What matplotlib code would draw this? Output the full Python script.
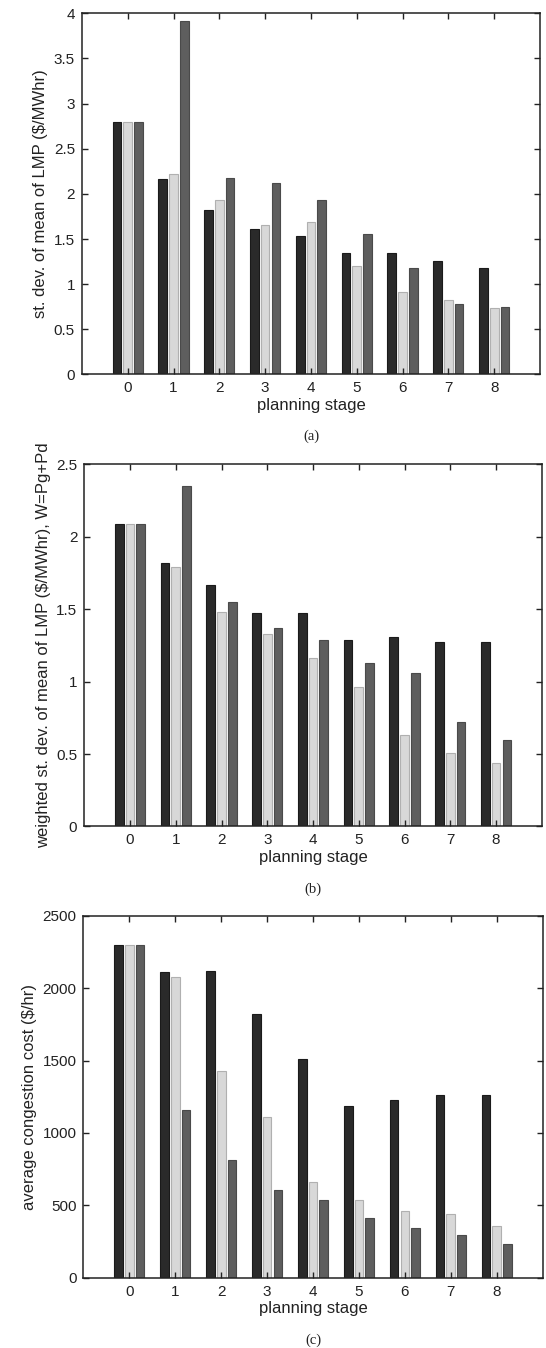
"""
Three grouped bar panels: LMP spread and congestion cost per planning stage.
"""
import numpy as np
import matplotlib.pyplot as plt

stages = [0, 1, 2, 3, 4, 5, 6, 7, 8]

# panel (a): st. dev. of mean of LMP
std_dark = [2.80, 2.16, 1.82, 1.61, 1.53, 1.35, 1.34, 1.26, 1.18]
std_light = [2.80, 2.22, 1.93, 1.65, 1.69, 1.20, 0.91, 0.83, 0.74]
std_mid = [2.80, 3.91, 2.17, 2.12, 1.93, 1.55, 1.18, 0.78, 0.75]

# panel (b): weighted st. dev.
wstd_dark = [2.09, 1.82, 1.67, 1.47, 1.47, 1.29, 1.31, 1.27, 1.27]
wstd_light = [2.09, 1.79, 1.48, 1.33, 1.16, 0.96, 0.63, 0.51, 0.44]
wstd_mid = [2.09, 2.35, 1.55, 1.37, 1.29, 1.13, 1.06, 0.72, 0.60]

# panel (c): average congestion cost
cost_dark = [2300, 2115, 2120, 1825, 1510, 1185, 1230, 1265, 1265]
cost_light = [2300, 2080, 1425, 1110, 660, 540, 460, 440, 360]
cost_mid = [2300, 1160, 810, 605, 535, 410, 345, 295, 230]

plt.rcParams["font.family"] = ["Liberation Sans", "DejaVu Sans"]

fig = plt.figure(figsize=(5.46, 13.48), dpi=100)

panels = [
    ([0.150, 0.7222, 0.839, 0.268], (std_dark, std_light, std_mid),
     (0, 4), np.arange(0, 4.01, 0.5), "st. dev. of mean of LMP ($/MWhr)", "(a)"),
    ([0.1544, 0.3869, 0.838, 0.2687], (wstd_dark, wstd_light, wstd_mid),
     (0, 2.5), np.arange(0, 2.51, 0.5),
     "weighted st. dev. of mean of LMP ($/MWhr), W=Pg+Pd", "(b)"),
    ([0.1526, 0.0522, 0.8414, 0.2683], (cost_dark, cost_light, cost_mid),
     (0, 2500), np.arange(0, 2501, 500), "average congestion cost ($/hr)", "(c)"),
]

styles = [("#2a2a2a", "#1a1a1a"), ("#d8d8d8", "#b0b0b0"), ("#5e5e5e", "#4a4a4a")]
offsets = [-0.235, 0.0, 0.235]
x = np.array(stages)

for rect, series, ylim, yticks, ylabel, tag in panels:
    ax = fig.add_axes(rect)
    for vals, (fc, ec), off in zip(series, styles, offsets):
        ax.bar(x + off, vals, width=0.19, color=fc, edgecolor=ec, linewidth=0.8)
    ax.set_xlim(-1, 9)
    ax.set_ylim(*ylim)
    ax.set_xticks(stages)
    ax.set_yticks(yticks)
    ax.set_yticklabels([f"{v:g}" for v in yticks])
    ax.tick_params(direction="in", top=True, right=True, length=4,
                   width=1, labelsize=11, colors="#222222", pad=5)
    for sp in ax.spines.values():
        sp.set_linewidth(1.1)
        sp.set_color("#222222")
    ax.set_ylabel(ylabel, fontsize=12, color="#222222", labelpad=4)
    ax.set_xlabel("planning stage", fontsize=12, color="#222222", labelpad=2)
    ax.text(0.5, -0.172, tag, transform=ax.transAxes, ha="center", va="center",
            fontsize=10.5, family="Liberation Serif", color="#222222")

fig.savefig("out.png", dpi=100)
